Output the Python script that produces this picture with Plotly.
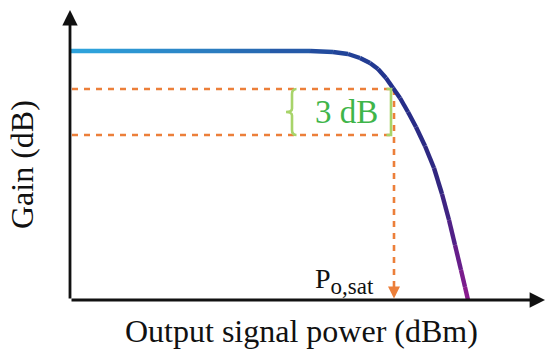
import plotly.graph_objects as go

# ---- data (schematic units: x = output power, y = gain) ----
curve_x = [0.0, 4.0, 8.0, 12.0, 16.0, 20.0, 24.0, 26.3, 27.8, 29.0, 30.0, 30.8, 31.6, 32.3,
           33.0, 33.8, 34.6, 35.5, 36.4, 37.2, 37.9, 38.5, 39.1, 39.5, 39.8]
curve_y = [24.9, 24.9, 24.9, 24.9, 24.9, 24.9, 24.9, 24.8, 24.6, 24.2, 23.7, 23.1, 22.2, 21.2,
           20.2, 18.8, 17.3, 15.4, 13.2, 10.6, 8.0, 5.5, 3.0, 1.3, 0.0]
gain_3db_upper = 21.1
gain_3db_lower = 16.5
p_sat = 32.4
dash_x_start = 0.2
brace_left_x = 22.2
brace_right_x = 32.1
label_3db = "3 dB"
label_psat = "P<sub><span style='font-size:23px'>o,sat</span></sub>"
x_title = "Output signal power (dBm)"
y_title = "Gain (dB)"

X_MAX = 47.5
Y_MAX = 29.0

# colour stops along the curve
stops = [(0.0, (46, 168, 224)), (0.25, (43, 125, 192)), (0.47, (33, 70, 154)),
         (0.6, (35, 47, 138)), (0.8, (51, 38, 127)), (0.9, (90, 31, 137)), (1.0, (142, 26, 142))]


def col_at(f):
    for (f0, c0), (f1, c1) in zip(stops[:-1], stops[1:]):
        if f <= f1:
            t = (f - f0) / (f1 - f0) if f1 > f0 else 0
            c = [round(a + (b - a) * t) for a, b in zip(c0, c1)]
            return "rgb(%d,%d,%d)" % tuple(c)
    return "rgb(%d,%d,%d)" % stops[-1][1]


lens = [0.0]
for i in range(1, len(curve_x)):
    dx = curve_x[i] - curve_x[i - 1]
    dy = curve_y[i] - curve_y[i - 1]
    lens.append(lens[-1] + (dx * dx + dy * dy) ** 0.5)
total = lens[-1]

fig = go.Figure()

ORANGE = "#ec7f3a"
for g in (gain_3db_upper, gain_3db_lower):
    fig.add_trace(go.Scatter(x=[dash_x_start, p_sat], y=[g, g], mode="lines",
                             line=dict(color=ORANGE, width=2.6, dash="6px,6px"),
                             hoverinfo="skip", showlegend=False))
fig.add_trace(go.Scatter(x=[p_sat, p_sat], y=[gain_3db_upper, 0.9], mode="lines",
                         line=dict(color=ORANGE, width=2.6, dash="6px,6px"),
                         hoverinfo="skip", showlegend=False))

# gradient curve
for i in range(len(curve_x) - 1):
    f = (lens[i] + lens[i + 1]) / 2 / total
    fig.add_trace(go.Scatter(x=curve_x[i:i + 2], y=curve_y[i:i + 2], mode="lines",
                             line=dict(color=col_at(f), width=4.4),
                             hoverinfo="skip", showlegend=False))

GREEN_BR = "#a8d46a"
mid = (gain_3db_upper + gain_3db_lower) / 2
bl = brace_left_x
path_left = (f"M {bl+0.45},{gain_3db_upper} Q {bl},{gain_3db_upper} {bl},{gain_3db_upper-0.5} "
             f"L {bl},{mid+0.35} Q {bl},{mid} {bl-0.6},{mid} Q {bl},{mid} {bl},{mid-0.35} "
             f"L {bl},{gain_3db_lower+0.5} Q {bl},{gain_3db_lower} {bl+0.45},{gain_3db_lower}")
fig.add_shape(type="path", path=path_left, xref="x", yref="y",
              line=dict(color=GREEN_BR, width=2.6))
br = brace_right_x
path_right = (f"M {br-0.45},{gain_3db_upper} L {br},{gain_3db_upper} "
              f"L {br},{gain_3db_lower} L {br-0.45},{gain_3db_lower}")
fig.add_shape(type="path", path=path_right, xref="x", yref="y",
              line=dict(color=GREEN_BR, width=2.6))

SERIF = "Liberation Serif, Times New Roman, serif"
fig.add_annotation(x=(bl + br) / 2 + 0.5, y=mid, text=label_3db, showarrow=False,
                   font=dict(family=SERIF, size=33, color="#3fb54a"),
                   xanchor="center", yanchor="middle")

# axes arrows
fig.add_annotation(x=0, y=Y_MAX, ax=0, ay=0, xref="x", yref="y", axref="x", ayref="y",
                   text="", showarrow=True, arrowhead=2, arrowsize=1.1, arrowwidth=2.8,
                   arrowcolor="#111111")
fig.add_annotation(x=X_MAX, y=0, ax=0, ay=0, xref="x", yref="y", axref="x", ayref="y",
                   text="", showarrow=True, arrowhead=2, arrowsize=1.1, arrowwidth=2.8,
                   arrowcolor="#111111")
fig.add_annotation(x=p_sat, y=0.15, ax=p_sat, ay=1.2, xref="x", yref="y", axref="x", ayref="y",
                   text="", showarrow=True, arrowhead=2, arrowsize=1.0, arrowwidth=2.4,
                   arrowcolor=ORANGE)

fig.add_annotation(x=30.6, y=1.9, text=label_psat, showarrow=False,
                   font=dict(family=SERIF, size=28, color="#111111"),
                   xanchor="right", yanchor="middle")

fig.add_annotation(x=301 / 550, y=1 - 331 / 358, xref="paper", yref="paper", text=x_title,
                   showarrow=False, font=dict(family=SERIF, size=32, color="#111111"),
                   xanchor="center", yanchor="middle")
fig.add_annotation(x=22 / 550, y=1 - 165 / 358, xref="paper", yref="paper", text=y_title,
                   showarrow=False, textangle=-90,
                   font=dict(family=SERIF, size=32, color="#111111"),
                   xanchor="center", yanchor="middle")

L, R, T, B = 70, 5, 10, 58
fig.update_layout(
    width=550, height=358,
    margin=dict(l=0, r=0, t=0, b=0),
    paper_bgcolor="white", plot_bgcolor="white",
    xaxis=dict(range=[0, X_MAX], domain=[L / 550, 1 - R / 550], visible=False, fixedrange=True),
    yaxis=dict(range=[0, Y_MAX], domain=[B / 358, 1 - T / 358], visible=False, fixedrange=True),
    showlegend=False,
)

fig.write_html("out.html", config={"displayModeBar": False},
               post_script="document.body.style.margin='0';document.body.style.overflow='hidden';")
